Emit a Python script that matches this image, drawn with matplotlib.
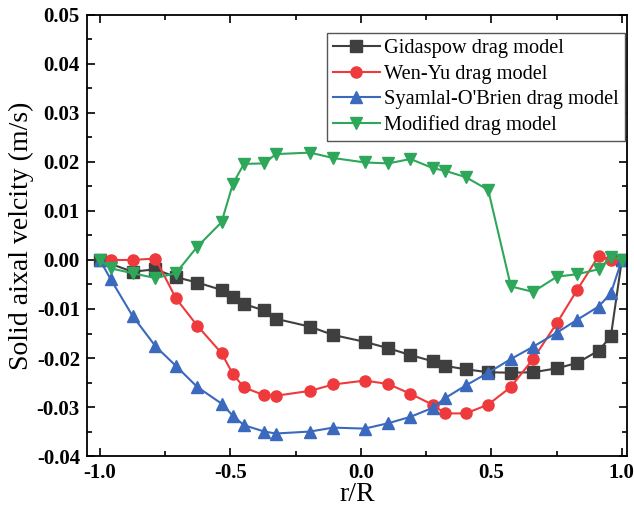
import matplotlib
matplotlib.use("Agg")
import matplotlib.pyplot as plt
from matplotlib.ticker import MultipleLocator

plt.rcParams['font.family'] = ['Liberation Serif', 'DejaVu Serif']

# r/R positions (shared by all curves)
r = [-1.0, -0.959, -0.875, -0.787, -0.709, -0.627, -0.534, -0.490, -0.448, -0.370,
     -0.326, -0.195, -0.106, 0.015, 0.105, 0.190, 0.278, 0.322, 0.402, 0.488,
     0.575, 0.660, 0.752, 0.829, 0.911, 0.958, 1.0]

gidaspow = [0.0, None, -0.0024, -0.0019, -0.0035, -0.0046, -0.0061, -0.0075, -0.0090, -0.0103,
            -0.0120, -0.0136, -0.0153, -0.0167, -0.0180, -0.0194, -0.0207, -0.0216, -0.0223, -0.0229,
            -0.0230, -0.0229, -0.0221, -0.0210, -0.0185, -0.0156, 0.0]
wen_yu = [None, 0.0, 0.0, 0.0003, -0.0078, -0.0134, -0.0190, -0.0233, -0.0260, -0.0276,
          -0.0277, -0.0267, -0.0254, -0.0246, -0.0253, -0.0273, -0.0296, -0.0313, -0.0313, -0.0295,
          -0.0259, -0.0202, -0.0128, -0.0061, 0.0008, 0.0, 0.0]
syamlal = [0.0, -0.0039, -0.0114, -0.0176, -0.0216, -0.0259, -0.0293, -0.0318, -0.0337, -0.0350,
           -0.0354, -0.0350, -0.0342, -0.0344, -0.0333, -0.0320, -0.0301, -0.0282, -0.0256, -0.0230,
           -0.0202, -0.0177, -0.0148, -0.0122, -0.0095, -0.0068, 0.0]
modified = [0.0, -0.0017, -0.0027, -0.0037, -0.0027, 0.0027, 0.0077, 0.0156, 0.0196, 0.0197,
            0.0216, 0.0219, 0.0208, 0.0199, 0.0197, 0.0206, 0.0187, 0.0182, 0.0169, 0.0143,
            -0.0054, -0.0065, -0.0034, -0.0029, -0.0019, 0.0006, 0.0]

labels = ["Gidaspow drag model", "Wen-Yu drag model",
          "Syamlal-O'Brien drag model", "Modified drag model"]
series = [gidaspow, wen_yu, syamlal, modified]
colors = ['#3f3f3f', '#ee3a3c', '#3a69bd', '#2ea75a']
markers = ['s', 'o', '^', 'v']


def pairs(xs, ys):
    pts = [(x, y) for x, y in zip(xs, ys) if y is not None]
    return [p[0] for p in pts], [p[1] for p in pts]


fig = plt.figure(figsize=(6.34, 5.13), dpi=100)
ax = fig.add_axes([0.137, 0.111, 0.852, 0.860])

for ys, lab, c, m in zip(series, labels, colors, markers):
    xs, yv = pairs(r, ys)
    ax.plot(xs, yv, color=c, marker=m, markersize=8, linewidth=1.5, label=lab)

ax.set_xlim(-1.05, 1.02)
ax.set_ylim(-0.04, 0.05)
ax.xaxis.set_major_locator(MultipleLocator(0.5))
ax.xaxis.set_minor_locator(MultipleLocator(0.25))
ax.yaxis.set_major_locator(MultipleLocator(0.01))
ax.yaxis.set_minor_locator(MultipleLocator(0.005))
ax.xaxis.set_major_formatter(plt.FuncFormatter(lambda v, p: f"{v:.1f}"))
ax.yaxis.set_major_formatter(plt.FuncFormatter(lambda v, p: f"{v:.2f}"))
ax.tick_params(which='both', direction='in', top=True, right=True, width=1.2)
ax.tick_params(which='major', length=6, labelsize=15, pad=5)
ax.tick_params(which='minor', length=3.5)
for lbl in ax.get_xticklabels() + ax.get_yticklabels():
    lbl.set_fontweight('bold')
for s in ax.spines.values():
    s.set_linewidth(1.3)

ax.set_xlabel("r/R", fontsize=20, labelpad=-1)
ax.set_ylabel("Solid aixal velcity (m/s)", fontsize=20, labelpad=2)

leg = ax.legend(loc='upper right', bbox_to_anchor=(0.996, 0.959), fontsize=14.7,
                fancybox=False, edgecolor='#555555', framealpha=1,
                handlelength=2.3, handletextpad=0.2, borderpad=0.3,
                labelspacing=0.3, borderaxespad=0)
leg.get_frame().set_linewidth(1.0)

fig.savefig("out.png", dpi=100)
